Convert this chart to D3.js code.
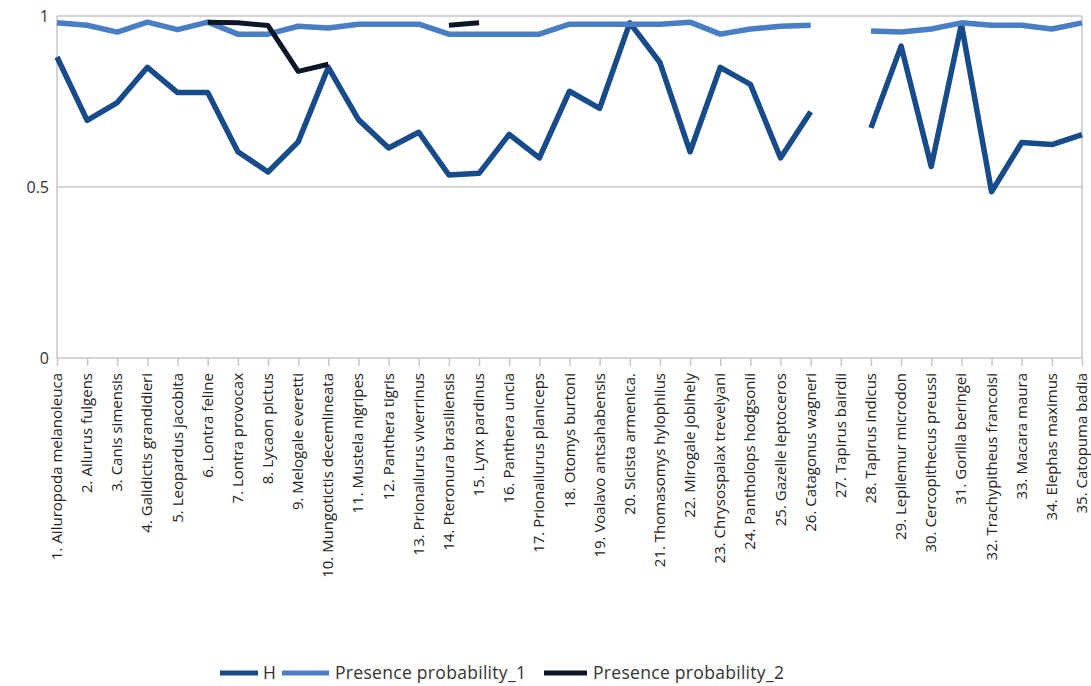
<!DOCTYPE html>
<html><head><meta charset="utf-8">
<script src="https://cdn.jsdelivr.net/npm/d3@7"></script>
<style>
body{margin:0;background:#fff;}
svg{display:block;font-family:"Open Sans",sans-serif;}
</style></head>
<body><svg id="c" width="1091" height="686"></svg>
<script>
const categories = ["1. Ailuropoda melanoleuca","2. Ailurus fulgens","3. Canis simensis","4. Galidictis grandidieri","5. Leopardus jacobita","6. Lontra feline","7. Lontra provocax","8. Lycaon pictus","9. Melogale everetti","10. Mungotictis decemlineata","11. Mustela nigripes","12. Panthera tigris","13. Prionailurus viverrinus","14. Pteronura brasiliensis","15. Lynx pardinus","16. Panthera uncia","17. Prionailurus planiceps","18. Otomys burtoni","19. Voalavo antsahabensis","20. Sicista armenica.","21. Thomasomys hylophilus","22. Mirogale jobihely","23. Chrysospalax trevelyani","24. Pantholops hodgsonii","25. Gazelle leptoceros","26. Catagonus wagneri","27. Tapirus bairdii","28. Tapirus indicus","29. Lepilemur microdon","30. Cercopithecus preussi","31. Gorilla beringei","32. Trachypitheus francoisi","33. Macara maura","34. Elephas maximus","35. Catopuma badia"];
const H = [0.88,0.695,0.747,0.85,0.776,0.776,0.603,0.544,0.632,0.85,0.697,0.614,0.66,0.535,0.54,0.654,0.585,0.78,0.73,0.98,0.864,0.603,0.85,0.80,0.585,0.72,null,0.673,0.912,0.56,0.976,0.486,0.63,0.624,0.653];
const PP1 = [0.98,0.973,0.953,0.982,0.96,0.982,0.947,0.947,0.97,0.965,0.976,0.976,0.976,0.947,0.947,0.947,0.947,0.976,0.976,0.976,0.976,0.982,0.947,0.962,0.97,0.973,null,0.956,0.953,0.962,0.98,0.973,0.973,0.962,0.98];
const PP2 = [null,null,null,null,null,0.982,0.98,0.972,0.838,0.859,null,null,null,0.973,0.98,null,null,null,null,null,null,null,null,null,null,null,null,null,null,null,null,null,null,null,null];
const yTicks = [0, 0.5, 1];
const yTickLabels = ["0","0.5","1"];
const seriesNames = ["H","Presence probability_1","Presence probability_2"];
const colors = ["#174b89","#4a7ec4","#0c1627"];

const svg = d3.select("#c");
const x = d3.scalePoint().domain(categories).range([57,1082]);
const y = d3.scaleLinear().domain([0,1]).range([358,16]);
const grid = "#c6c6c6";

svg.append("g").selectAll("line").data(yTicks.filter(v=>v>0)).join("line")
  .attr("x1",57).attr("x2",1082).attr("y1",d=>y(d)).attr("y2",d=>y(d))
  .attr("stroke",grid).attr("stroke-width",1.5);
const xa = svg.append("g").attr("transform",`translate(0,${y(0)})`)
  .call(d3.axisBottom(x).tickSize(8).tickFormat(""));
xa.select(".domain").remove();
xa.selectAll("line").attr("stroke",grid).attr("stroke-width",1.5);
svg.append("line").attr("x1",57).attr("x2",1082).attr("y1",y(0)).attr("y2",y(0)).attr("stroke",grid).attr("stroke-width",1.5);
svg.append("line").attr("x1",57).attr("x2",57).attr("y1",y(1)).attr("y2",y(0)).attr("stroke",grid).attr("stroke-width",1.5);
svg.append("line").attr("x1",1082).attr("x2",1082).attr("y1",y(1)).attr("y2",y(0)).attr("stroke",grid).attr("stroke-width",1.5);

svg.append("g").selectAll("text").data(yTicks).join("text")
  .attr("x",49).attr("y",d=>y(d)).attr("dy","0.35em").attr("text-anchor","end")
  .attr("font-size",16).attr("fill","#333").text((d,i)=>yTickLabels[i]);

svg.append("g").selectAll("text").data(categories).join("text")
  .attr("transform",d=>`translate(${x(d)+5},373) rotate(-90)`)
  .attr("text-anchor","end").attr("font-size",15).attr("fill","#222")
  .text(d=>d);

const series = [H,PP1,PP2];
const widths = [5.5,5.5,5];
series.forEach((s,i)=>{
  const line = d3.line().defined(d=>d!=null).x((d,j)=>x(categories[j])).y(d=>y(d));
  svg.append("path").datum(s).attr("d",line).attr("fill","none")
    .attr("stroke",colors[i]).attr("stroke-width",widths[i]).attr("stroke-linejoin","round");
});

const leg = [{x0:220,w:38,tx:263},{x0:282,w:47,tx:335},{x0:544,w:43,tx:593}];
seriesNames.forEach((n,i)=>{
  svg.append("line").attr("x1",leg[i].x0).attr("x2",leg[i].x0+leg[i].w).attr("y1",673).attr("y2",673)
    .attr("stroke",colors[i]).attr("stroke-width",5);
  svg.append("text").attr("x",leg[i].tx).attr("y",673).attr("dy","0.35em")
    .attr("font-size",17.5).attr("letter-spacing",0.3).attr("fill","#333").text(n);
});
</script></body></html>
